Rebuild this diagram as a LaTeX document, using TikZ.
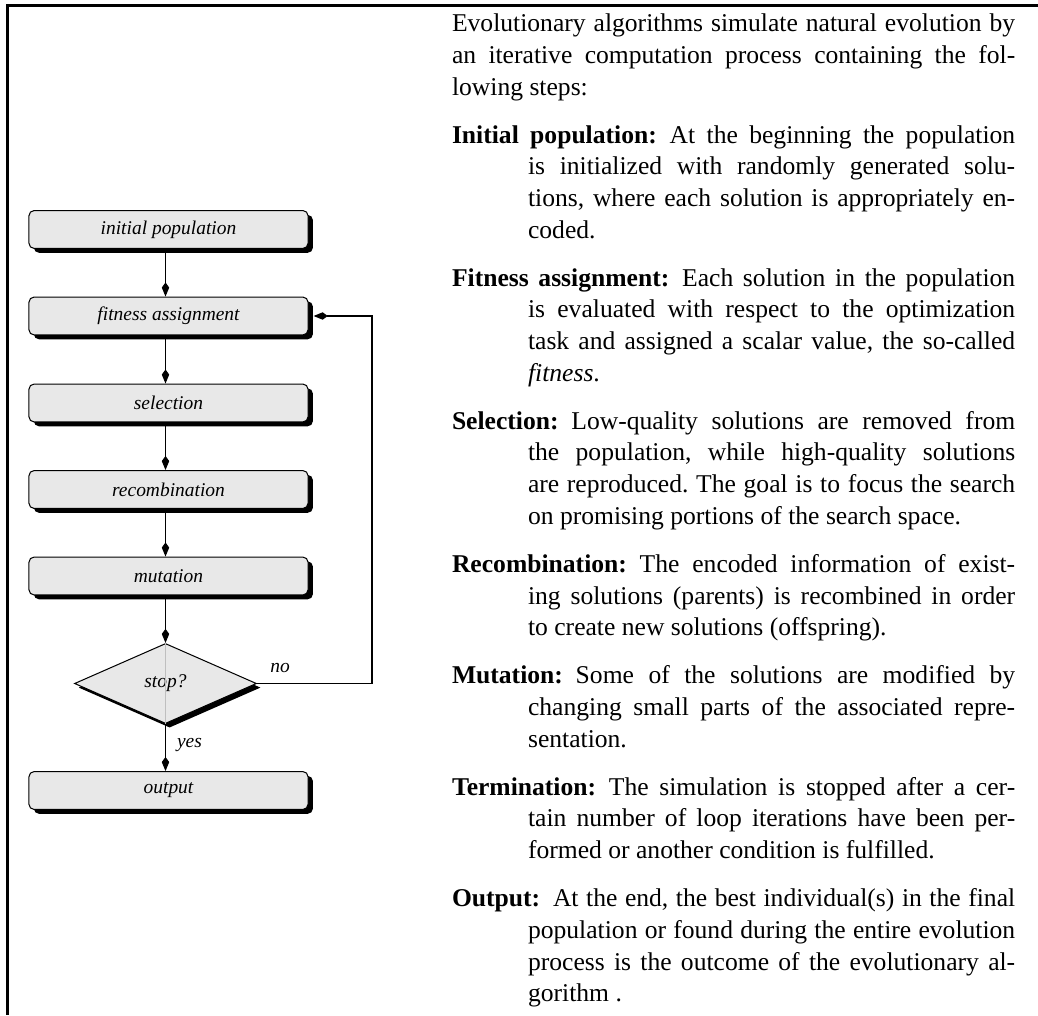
\documentclass[tikz,border=0pt]{standalone}
\usepackage{fontspec}
\setmainfont{Liberation Serif}
\usetikzlibrary{shapes.geometric,shadows,arrows.meta}
\newlength\colw \setlength\colw{220pt}
\newlength\hind \setlength\hind{29.7pt}
\newcommand\fl[1]{\hbox to \colw{#1}}
\newcommand\il[1]{\hbox to \colw{\kern\hind #1}}
\newcommand\el[1]{\hbox{\kern\hind #1}}
\newcommand\lbl[1]{\textbf{#1}\hspace{0.5em}}
\newcommand\bodyfont{\fontsize{10pt}{12.38pt}\selectfont\frenchspacing}
\tikzset{
  fbox/.style={rectangle, rounded corners=2pt, draw=black, line width=0.4pt,
    fill=black!9, minimum width=109pt, minimum height=14.8pt, inner sep=0pt,
    font=\fontsize{7.6pt}{9pt}\selectfont\itshape,
    drop shadow={shadow xshift=1.9pt, shadow yshift=-1.7pt, fill=black, opacity=1}},
  fdia/.style={diamond, draw=black, line width=0.4pt, fill=black!9,
    minimum width=71.1pt, minimum height=31.3pt, inner sep=0pt,
    font=\fontsize{7.6pt}{9pt}\selectfont\itshape,
    drop shadow={shadow xshift=1.6pt, shadow yshift=-1.6pt, fill=black, opacity=1}},
  arr/.style={-{Kite[length=5.5pt,width=2.9pt,inset=2pt]}, line width=0.4pt},
  lab/.style={font=\fontsize{7.6pt}{9pt}\selectfont\itshape, inner sep=0pt},
  para/.style={anchor=base west, inner sep=0pt, outer sep=0pt},
  frame/.style={line width=1.05pt}
}
\begin{document}
\begin{tikzpicture}[x=0.390625pt, y=-0.390625pt]
\useasboundingbox (0,0) rectangle (1038,1015);
% frame
\draw[frame] (1038,5.3) -- (7.3,5.3) -- (7.3,1015);

% flowchart
\node[fbox] (init) at (168.5,229.5) {initial population};
\node[fbox] (fit) at (168.5,316) {fitness assignment};
\node[fbox] (sel) at (168.5,403) {selection};
\node[fbox] (rec) at (168.5,489.5) {recombination};
\node[fbox] (mut) at (168.5,576) {mutation};
\node[fdia] (dia) at (165.5,683.5) {stop?};
\draw[black!25, line width=0.3pt] (dia.north) -- (dia.south);
\node[fbox] (out) at (168.5,790.5) {output};

\draw[arr] (init.south -| dia.north) -- (fit.north -| dia.north);
\draw[arr] (fit.south -| dia.north) -- (sel.north -| dia.north);
\draw[arr] (sel.south -| dia.north) -- (rec.north -| dia.north);
\draw[arr] (rec.south -| dia.north) -- (mut.north -| dia.north);
\draw[arr] (mut.south -| dia.north) -- (dia.north);
\draw[arr] (dia.south) -- (out.north -| dia.south);
\coordinate (loopx) at (372,0);
\draw[arr] (dia.east) -| (loopx |- fit.east) -- ([xshift=2pt]fit.east);
\node[lab] (no) at (280,668) {no};
\node[lab] (yes) at (189.5,745) {yes};

% text column
\node[para] (intro) at (452,31.7) {\parbox[t]{\colw}{\bodyfont
\fl{Evolutionary algorithms simulate natural evolution by}
\fl{an iterative computation process containing the fol-}
\hbox{lowing steps:}}};

\node[para] (pinit) at (452,143.1) {\parbox[t]{\colw}{\bodyfont
\fl{\lbl{Initial population:}At the beginning the population}
\il{is initialized with randomly generated solu-}
\il{tions, where each solution is appropriately en-}
\el{coded.}}};

\node[para] (pfit) at (452,286.2) {\parbox[t]{\colw}{\bodyfont
\fl{\lbl{Fitness assignment:}Each solution in the population}
\il{is evaluated with respect to the optimization}
\il{task and assigned a scalar value, the so-called}
\el{\textit{fitness}.}}};

\node[para] (psel) at (452,429.3) {\parbox[t]{\colw}{\bodyfont
\fl{\lbl{Selection:}Low-quality solutions are removed from}
\il{the population, while high-quality solutions}
\il{are reproduced. The goal is to focus the search}
\el{on promising portions of the search space.}}};

\node[para] (prec) at (452,572.4) {\parbox[t]{\colw}{\bodyfont
\fl{\lbl{Recombination:}The encoded information of exist-}
\il{ing solutions (parents) is recombined in order}
\el{to create new solutions (offspring).}}};

\node[para] (pmut) at (452,683.8) {\parbox[t]{\colw}{\bodyfont
\fl{\lbl{Mutation:}Some of the solutions are modified by}
\il{changing small parts of the associated repre-}
\el{sentation.}}};

\node[para] (pterm) at (452,795.2) {\parbox[t]{\colw}{\bodyfont
\fl{\lbl{Termination:}The simulation is stopped after a cer-}
\il{tain number of loop iterations have been per-}
\el{formed or another condition is fulfilled.}}};

\node[para] (pout) at (452,906.6) {\parbox[t]{\colw}{\bodyfont
\fl{\lbl{Output:}At the end, the best individual(s) in the final}
\il{population or found during the entire evolution}
\il{process is the outcome of the evolutionary al-}
\el{gorithm .}}};
\end{tikzpicture}
\end{document}
